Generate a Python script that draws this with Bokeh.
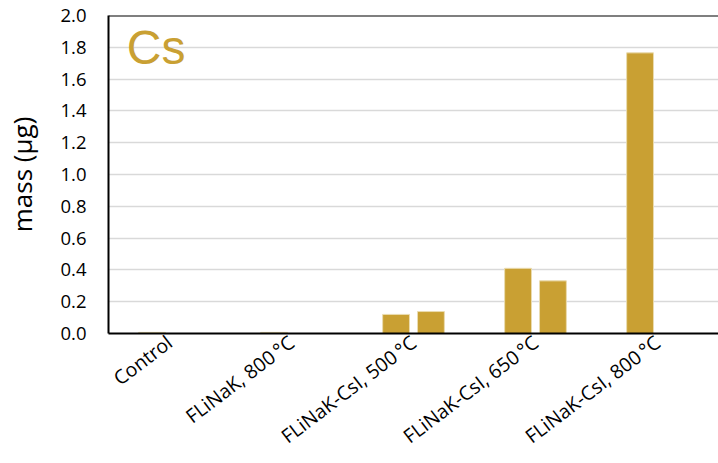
from bokeh.plotting import figure
from bokeh.models import ColumnDataSource, FactorRange, Span, Label, FixedTicker, NumeralTickFormatter
from bokeh.transform import dodge
from bokeh.embed import file_html
from bokeh.resources import INLINE

# Cs mass collected per test condition (two replicate samples where available)
categories = ["Control", "FLiNaK, 800\u2009\u00b0C", "FLiNaK-CsI, 500\u2009\u00b0C",
              "FLiNaK-CsI, 650\u2009\u00b0C", "FLiNaK-CsI, 800\u2009\u00b0C"]
sample_1 = [0.007, 0.007, 0.12, 0.41, 1.765]
sample_2 = [float("nan"), float("nan"), 0.138, 0.331, float("nan")]
y_ticks = [0.0, 0.2, 0.4, 0.6, 0.8, 1.0, 1.2, 1.4, 1.6, 1.8, 2.0]

BAR = "#C9A033"
FONT = "Open Sans"

src = ColumnDataSource(dict(cat=categories, s1=sample_1, s2=sample_2))

p = figure(width=718, height=463, x_range=FactorRange(*categories, range_padding=0),
           y_range=(0, 2.0), output_backend="svg", toolbar_location=None,
           min_border_left=108, min_border_right=0, min_border_top=15, min_border_bottom=130)
p.outline_line_color = None
p.background_fill_color = "white"
p.border_fill_color = "white"

p.vbar(x=dodge("cat", -0.143, range=p.x_range), top="s1", width=0.22, source=src,
       fill_color=BAR, line_color="#EADCB0", line_width=1)
p.vbar(x=dodge("cat", 0.143, range=p.x_range), top="s2", width=0.22, source=src,
       fill_color=BAR, line_color="#EADCB0", line_width=1)

# top frame border
p.add_layout(Span(location=2.0, dimension="width", line_color="black", line_width=2))

p.add_layout(Label(x=0.15, y=1.80, text="Cs", text_font="Liberation Sans",
                   text_font_size="48px", text_color=BAR, text_baseline="alphabetic"))

p.xgrid.grid_line_color = None
p.ygrid.grid_line_color = "#D9D9D9"
p.ygrid.grid_line_width = 1.5

p.yaxis.ticker = FixedTicker(ticks=y_ticks)
p.yaxis.formatter = NumeralTickFormatter(format="0.0")
p.yaxis.axis_label = "mass (\u00b5g)"
p.yaxis.axis_label_text_font = FONT
p.yaxis.axis_label_text_font_size = "26px"
p.yaxis.axis_label_text_font_style = "normal"
p.yaxis.axis_label_text_color = "black"
p.yaxis.axis_label_standoff = 17

for ax in (p.xaxis[0], p.yaxis[0]):
    ax.axis_line_color = "black"
    ax.axis_line_width = 2
    ax.major_tick_line_color = None
    ax.minor_tick_line_color = None
    ax.major_label_text_font = FONT
    ax.major_label_text_color = "black"

p.yaxis.major_label_text_font_size = "18.5px"
p.yaxis.major_label_standoff = 16
p.xaxis.major_label_text_font_size = "19.5px"
p.xaxis.major_label_orientation = 0.65
p.xaxis.major_label_standoff = 0

open("out.html", "w").write(file_html(p, INLINE))
